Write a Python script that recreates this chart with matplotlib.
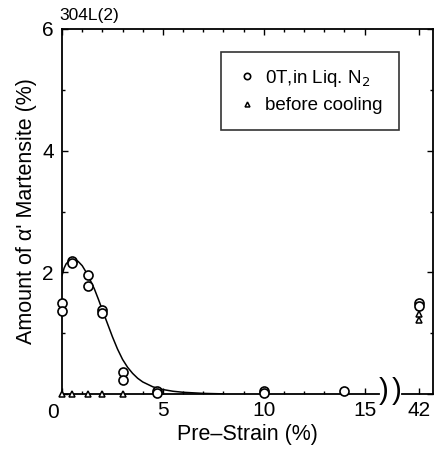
import numpy as np
import matplotlib
matplotlib.use("Agg")
import matplotlib.pyplot as plt

plt.rcParams["font.family"] = ["Liberation Sans", "DejaVu Sans"]

# pre-strain (%) and amount of alpha' martensite (%)
liq_n2_strain = [0.0, 0.0, 0.5, 0.5, 1.3, 1.3, 2.0, 2.0, 3.0, 3.0, 4.7, 4.7, 10, 10, 14, 42, 42]
liq_n2_amount = [1.49, 1.37, 2.18, 2.15, 1.96, 1.78, 1.38, 1.33, 0.37, 0.23, 0.05, 0.02,
                 0.05, 0.02, 0.05, 1.50, 1.45]
before_strain = [0.0, 0.5, 1.3, 2.0, 3.0, 42, 42]
before_amount = [0.0, 0.0, 0.0, 0.0, 0.0, 1.32, 1.22]

# fitted curve
fit_strain = [0.0, 0.1, 0.2, 0.35, 0.5, 0.65, 0.8, 1.0, 1.2, 1.4, 1.6, 1.8, 2.0, 2.25,
              2.5, 2.75, 3.0, 3.25, 3.5, 3.75, 4.0, 4.5, 5.0, 5.5, 6.0, 7.0, 8.0]
fit_amount = [1.95, 2.07, 2.14, 2.19, 2.21, 2.21, 2.18, 2.11, 2.00, 1.87, 1.73, 1.56,
              1.38, 1.16, 0.94, 0.74, 0.57, 0.44, 0.34, 0.26, 0.20, 0.12, 0.075, 0.047,
              0.03, 0.012, 0.004]

x_ticks = [0, 5, 10, 15, 42]
y_ticks = [0, 2, 4, 6]


def xpos(v):
    # broken axis: 42 % is drawn just past the break
    v = np.asarray(v, dtype=float)
    return np.where(v > 20, 17.7, v)


fig = plt.figure(figsize=(4.34, 4.53), dpi=100)
ax = fig.add_axes([0.143, 0.130, 0.855, 0.806])

ax.plot(fit_strain, fit_amount, color="black", lw=1.1)
ax.plot(xpos(liq_n2_strain), liq_n2_amount, "o", ms=6.5, mfc="white", mec="black",
        mew=1.2, ls="none", label="0T,in Liq. N$_2$", clip_on=False, zorder=3)
ax.plot(xpos(before_strain), before_amount, "^", ms=5, mfc="white", mec="black",
        mew=1.1, ls="none", label="before cooling", clip_on=False, zorder=3)

ax.set_xlim(0, 18.4)
ax.set_ylim(0, 6)
ax.set_xticks(xpos(x_ticks))
ax.set_xticklabels([""] + [str(t) for t in x_ticks[1:]], fontsize=15)
ax.set_yticks(y_ticks)
ax.set_yticklabels(["", "2", "4", "6"], fontsize=15)
ax.set_yticks(range(7), minor=True)
ax.set_xticks(np.arange(0, 16, 1), minor=True)
ax.tick_params(which="both", direction="in", top=True, right=True, length=4, width=1)
ax.tick_params(which="minor", length=2.5)
ax.tick_params(axis="x", pad=5)
ax.tick_params(axis="y", pad=6)

for s in ax.spines.values():
    s.set_linewidth(1.3)
ax.spines["bottom"].set_bounds(0, 15.7)
ax.plot([16.85, 18.4], [0, 0], color="black", lw=1.3, clip_on=False)
for bx in (15.95, 16.6):
    ax.text(bx, 0.05, ")", fontsize=21, ha="center", va="center")

ax.text(-0.45, -0.3, "0", fontsize=15, ha="center", va="center")
ax.text(-0.15, 6.1, "304L(2)", fontsize=12.5, ha="left", va="bottom")

ax.set_xlabel("Pre\u2013Strain (%)", fontsize=15.5, labelpad=3)
ax.set_ylabel("Amount of \u03b1' Martensite (%)", fontsize=15.5, labelpad=4)

leg = ax.legend(loc="upper left", bbox_to_anchor=(0.429, 0.937), borderaxespad=0,
                fontsize=13.5, frameon=True, fancybox=False, edgecolor="black",
                handlelength=1.0, borderpad=0.85, labelspacing=0.45,
                handletextpad=0.5, markerscale=0.7)
leg.get_frame().set_linewidth(1.2)

fig.savefig("out.png", dpi=100)
